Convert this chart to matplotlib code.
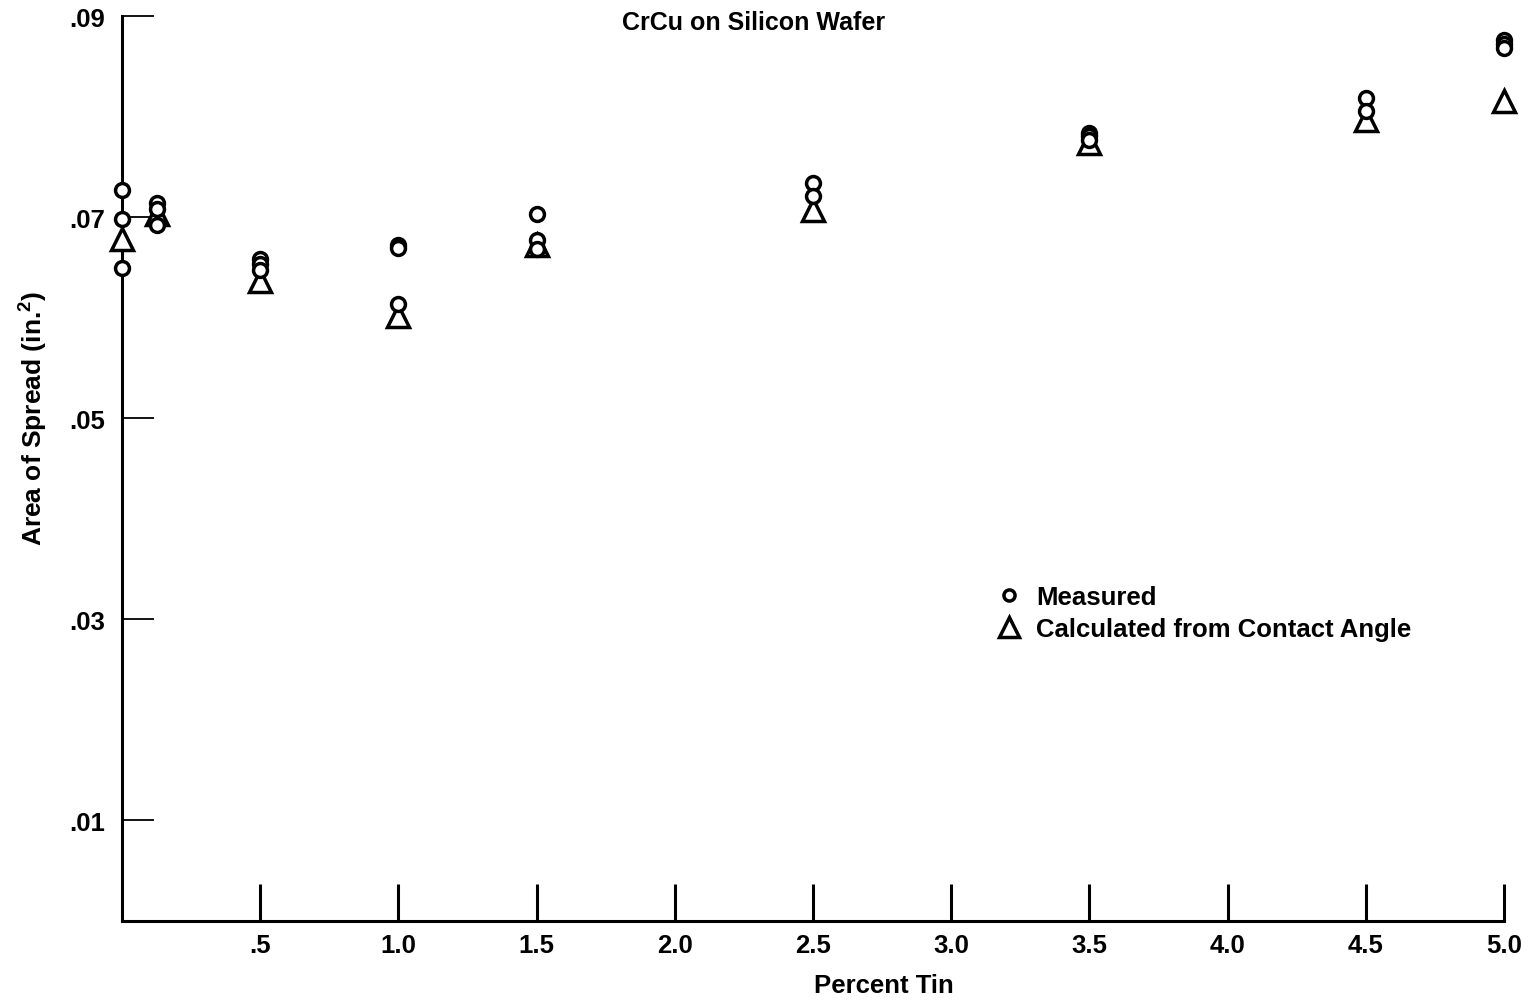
import matplotlib
matplotlib.use("Agg")
import matplotlib.pyplot as plt
from matplotlib.lines import Line2D

plt.rcParams['font.family'] = ['Liberation Sans', 'DejaVu Sans']
plt.rcParams['font.weight'] = 'bold'
plt.rcParams['mathtext.default'] = 'regular'

# ---- data ----
measured_x = [0, 0, 0, 0.125, 0.125, 0.125, 0.5, 0.5, 0.5, 1.0, 1.0, 1.0,
              1.5, 1.5, 1.5, 2.5, 2.5, 3.5, 3.5, 3.5, 4.5, 4.5, 5.0, 5.0, 5.0]
measured_y = [0.0727, 0.0698, 0.0650, 0.0714, 0.0708, 0.0692,
              0.0659, 0.0654, 0.0648, 0.0672, 0.0670, 0.0614,
              0.0703, 0.0677, 0.0669, 0.0734, 0.0721,
              0.0784, 0.0781, 0.0777, 0.0819, 0.0806,
              0.0876, 0.0872, 0.0868]
calc_x = [0, 0.125, 0.5, 1.0, 1.5, 2.5, 3.5, 4.5, 5.0]
calc_y = [0.0678, 0.0703, 0.0637, 0.0602, 0.0672, 0.0707, 0.0774, 0.0797, 0.0816]

x_ticks = [0.5, 1.0, 1.5, 2.0, 2.5, 3.0, 3.5, 4.0, 4.5, 5.0]
x_tick_labels = ['.5', '1.0', '1.5', '2.0', '2.5', '3.0', '3.5', '4.0', '4.5', '5.0']
y_ticks = [0.01, 0.03, 0.05, 0.07, 0.09]
y_tick_labels = ['.01', '.03', '.05', '.07', '.09']

title = 'CrCu on Silicon Wafer'
x_label = 'Percent Tin'
y_label = 'Area of Spread (in.$^2$)'
legend_labels = ['Measured', 'Calculated from Contact Angle']

# ---- figure ----
W, H = 1535, 1004
fig = plt.figure(figsize=(W / 100, H / 100), dpi=100)
ax = fig.add_axes([122 / W, (H - 922) / H, (1504 - 122) / W, (922 - 17.3) / H])

ax.set_xlim(0, 5.0)
ax.set_ylim(0, 0.09)

ax.plot(calc_x, calc_y, linestyle='none', marker='^', markersize=16,
        markerfacecolor='white', markeredgecolor='black', markeredgewidth=2.5,
        clip_on=False, zorder=3)
ax.plot(measured_x, measured_y, linestyle='none', marker='o', markersize=10,
        markerfacecolor='white', markeredgecolor='black', markeredgewidth=2.5,
        clip_on=False, zorder=4)

for s in ['top', 'right']:
    ax.spines[s].set_visible(False)
for s in ['left', 'bottom']:
    ax.spines[s].set_linewidth(2.2)

ax.set_xticks(x_ticks)
ax.set_xticklabels(x_tick_labels)
ax.set_yticks(y_ticks)
ax.set_yticklabels(y_tick_labels)
ax.tick_params(axis='x', direction='in', length=27, width=2.2, pad=9,
               labelsize=18.5)
ax.tick_params(axis='y', direction='in', length=23, width=1.3, pad=12,
               labelsize=18.5)
for lab in ax.get_xticklabels() + ax.get_yticklabels():
    lab.set_fontweight('bold')

ax.set_xlabel(x_label, fontsize=18.5, fontweight='bold', labelpad=11)
ax.xaxis.label.set_x((884 - 122) / (1504 - 122))
ax.set_ylabel(y_label, fontsize=19, fontweight='bold', labelpad=14)
ax.yaxis.label.set_y((922 - 418) / (922 - 17.3))

fig.text(754 / W, 1 - 23 / H, title, ha='center', va='center',
         fontsize=18, fontweight='bold')

handles = [
    Line2D([], [], linestyle='none', marker='o', markersize=8,
           markerfacecolor='white', markeredgecolor='black', markeredgewidth=2.5),
    Line2D([], [], linestyle='none', marker='^', markersize=14,
           markerfacecolor='white', markeredgecolor='black', markeredgewidth=2.5),
]
leg = ax.legend(handles, legend_labels, loc='upper left',
                bbox_to_anchor=(996 / W, 1 - 586 / H), bbox_transform=fig.transFigure,
                frameon=False, fontsize=18.5, handlelength=1.0, handletextpad=0.55,
                borderpad=0, borderaxespad=0, labelspacing=0.3)
for t in leg.get_texts():
    t.set_fontweight('bold')

fig.savefig('out.png', dpi=100)
